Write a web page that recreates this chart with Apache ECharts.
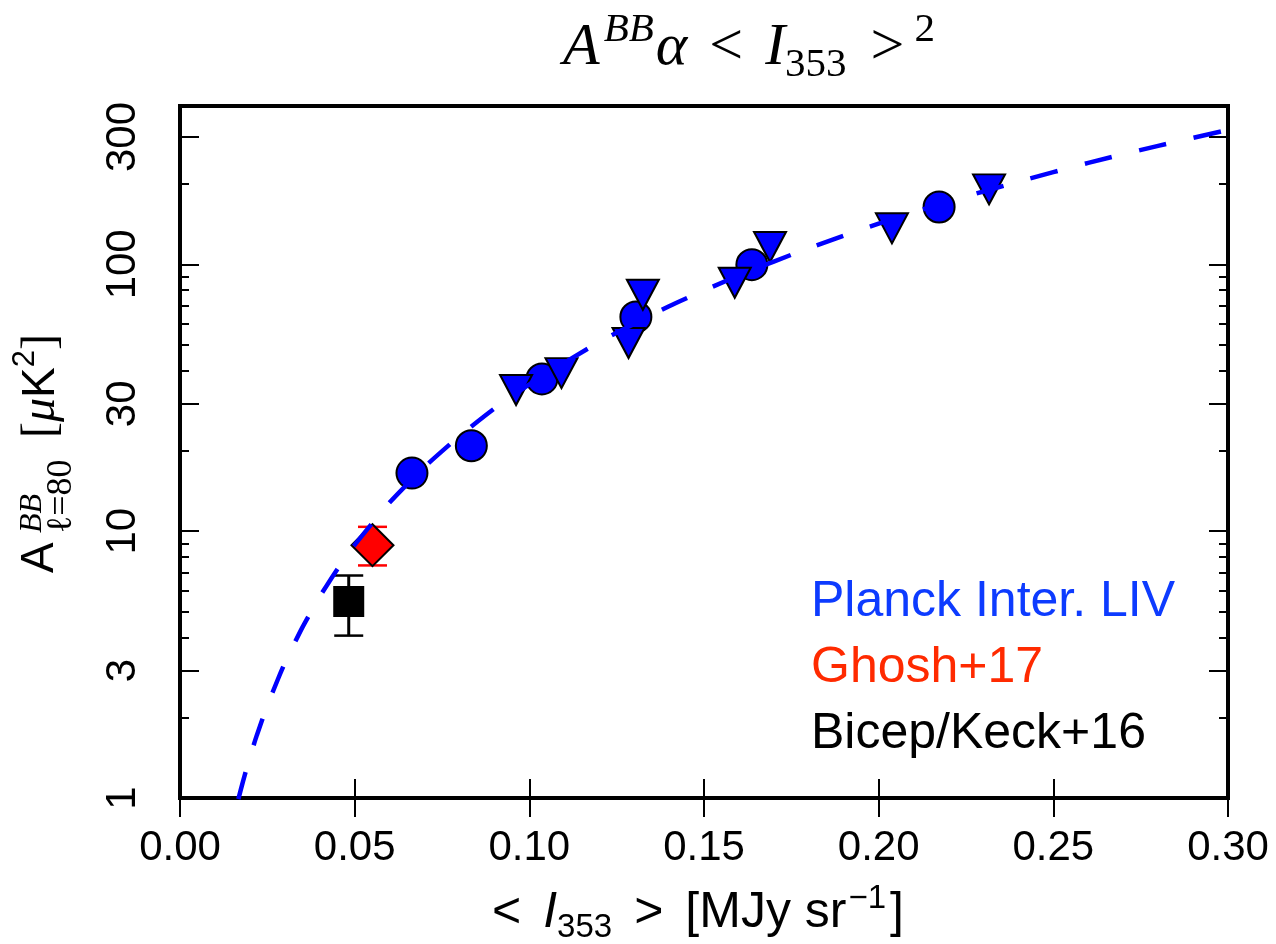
<!DOCTYPE html>
<html><head><meta charset="utf-8">
<script src="https://cdn.jsdelivr.net/npm/echarts@6/dist/echarts.min.js"></script>
<style>html,body{margin:0;padding:0;background:#fff}#c{width:1276px;height:944px}</style>
</head><body><div id="c"></div>
<script>
// ---- data ----
const planckCircleX = [0.0664, 0.0834, 0.1036, 0.1305, 0.1637, 0.2173];
const planckCircleY = [16.5, 20.9, 37.2, 63.5, 99.7, 164.0];
const planckTriX = [0.0962, 0.1092, 0.1284, 0.1325, 0.1588, 0.1689, 0.2038, 0.2316];
const planckTriY = [33.8, 39.1, 50.7, 76.9, 85.3, 116.1, 136.4, 190.9];
const ghoshX = [0.0551];
const ghoshY = [8.86];
const ghoshLow = [7.44];
const ghoshHigh = [10.38];
const bicepX = [0.0483];
const bicepY = [5.45];
const bicepLow = [4.06];
const bicepHigh = [6.82];
// dashed A ∝ <I>^2 curve
const fitX = [0.0167, 0.018, 0.02, 0.022, 0.025, 0.028, 0.03, 0.035, 0.04, 0.045, 0.05, 0.06, 0.07, 0.08, 0.09, 0.10, 0.12, 0.14, 0.16, 0.18, 0.20, 0.22, 0.24, 0.26, 0.28, 0.30];
const fitY = [0.99, 1.15, 1.42, 1.72, 2.22, 2.78, 3.2, 4.35, 5.68, 7.19, 8.88, 12.8, 17.4, 22.7, 28.8, 35.5, 51.1, 69.6, 90.9, 115, 142, 172, 204, 240, 278, 319];
const yMajorTicks = [1, 3, 10, 30, 100, 300];
const yMinorTicks = [2, 4, 5, 6, 7, 8, 9, 20, 40, 50, 60, 70, 80, 90, 200];
const xMin = 0, xMax = 0.30, xStep = 0.05;
const yMinVal = 1, yMaxVal = 392;
const legendLabels = ['Planck Inter. LIV', 'Ghosh+17', 'Bicep/Keck+16'];

// ---- chart ----
const L = Math.log10;
const toPts = (xs, ys) => xs.map((x, i) => [x, L(ys[i])]);
const toErr = (xs, lo, hi) => xs.map((x, i) => [x, L(lo[i]), L(hi[i])]);
const SANS = '"Liberation Sans", Arial, sans-serif';
const SERIF = '"Liberation Serif", "Times New Roman", serif';

function yAx(pos, vals, len, showLabel) {
  const cv = vals.map(L);
  return {
    type: 'value', position: pos, min: L(yMinVal), max: L(yMaxVal),
    axisLine: { show: false }, splitLine: { show: false },
    axisTick: { show: true, inside: true, length: len, customValues: cv, lineStyle: { color: '#000', width: 2 } },
    axisLabel: { show: showLabel, customValues: cv, rotate: 90, margin: 36, fontSize: 42, fontFamily: SANS, color: '#000',
      formatter: v => String(Math.round(Math.pow(10, v))) }
  };
}
function xAx(pos, showLabel) {
  return {
    type: 'value', position: pos, min: xMin, max: xMax, interval: xStep,
    axisLine: { show: false }, splitLine: { show: false },
    axisTick: { show: true, inside: true, length: 19, lineStyle: { color: '#000', width: 2 } },
    axisLabel: { show: showLabel, margin: 29, fontSize: 42, fontFamily: SANS, color: '#000', formatter: v => v.toFixed(2) }
  };
}
function errSeries(data, color, capW, lw) {
  return {
    type: 'custom', data: data, z: 3, clip: false,
    renderItem: function (params, api) {
      const x = api.value(0);
      const p1 = api.coord([x, api.value(1)]);
      const p2 = api.coord([x, api.value(2)]);
      return { type: 'group', children: [
        { type: 'line', shape: { x1: p1[0], y1: p1[1], x2: p2[0], y2: p2[1] }, style: { stroke: color, lineWidth: lw } },
        { type: 'line', shape: { x1: p1[0] - capW, y1: p1[1], x2: p1[0] + capW, y2: p1[1] }, style: { stroke: color, lineWidth: 2.5 } },
        { type: 'line', shape: { x1: p2[0] - capW, y1: p2[1], x2: p2[0] + capW, y2: p2[1] }, style: { stroke: color, lineWidth: 2.5 } }
      ] };
    }
  };
}

const xBase = xAx('bottom', true);
xBase.name = '{r|<}{i|I}{sub|353}{r|>}[MJy sr{sup|−1}]';
xBase.nameLocation = 'middle';
xBase.nameGap = 84;
xBase.nameTextStyle = {
  fontSize: 50, fontFamily: SANS, color: '#000', lineHeight: 62, padding: [0, 34, 0, 0],
  rich: {
    r: { fontSize: 50, fontFamily: SANS, lineHeight: 62, padding: [0, 22, 0, 22] },
    i: { fontSize: 50, fontFamily: SANS, fontStyle: 'italic', lineHeight: 62 },
    sub: { fontSize: 33, fontFamily: SANS, lineHeight: 32, verticalAlign: 'bottom' },
    sup: { fontSize: 33, fontFamily: SANS, lineHeight: 34, verticalAlign: 'top', padding: [0, 4, 0, 2] }
  }
};

const chart = echarts.init(document.getElementById('c'), null, { renderer: 'canvas' });
chart.setOption({
  animation: false,
  backgroundColor: '#fff',
  grid: { left: 180, top: 106, width: 1048, height: 692, show: true, borderColor: '#000', borderWidth: 4,
    backgroundColor: 'transparent', containLabel: false, outerBoundsMode: 'none' },
  xAxis: [xBase, xAx('top', false)],
  yAxis: [yAx('left', yMajorTicks, 19, true), yAx('left', yMinorTicks, 9, false), yAx('right', yMajorTicks, 19, false), yAx('right', yMinorTicks, 9, false)],
  series: [
    errSeries(toErr(bicepX, bicepLow, bicepHigh), '#000', 14.5, 3),
    errSeries(toErr(ghoshX, ghoshLow, ghoshHigh), '#ff0000', 14.5, 2.5),
    { type: 'scatter', data: toPts(planckCircleX, planckCircleY), symbol: 'circle', symbolSize: 31, z: 4,
      itemStyle: { color: '#0000ff', borderColor: '#000', borderWidth: 2, opacity: 1 } },
    { type: 'scatter', data: toPts(planckTriX, planckTriY), symbol: 'triangle', symbolRotate: 180, symbolSize: [32, 30], z: 5,
      itemStyle: { color: '#0000ff', borderColor: '#000', borderWidth: 2, opacity: 1 } },
    { type: 'scatter', data: toPts(ghoshX, ghoshY), symbol: 'diamond', symbolSize: [42, 42], z: 5,
      itemStyle: { color: '#ff0000', borderColor: '#000', borderWidth: 2, opacity: 1 } },
    { type: 'scatter', data: toPts(bicepX, bicepY), symbol: 'rect', symbolSize: 31, z: 5,
      itemStyle: { color: '#000', borderColor: '#000', borderWidth: 0, opacity: 1 } },
    { type: 'line', data: toPts(fitX, fitY), showSymbol: false, symbol: 'none', smooth: 0.2, z: 6, clip: true,
      lineStyle: { color: '#0000ff', width: 4.5, type: [28, 28], cap: 'butt' } }
  ],
  graphic: [
    { type: 'text', x: 749, y: 48, z: 10, style: {
      text: '{i|A}{sup|BB}{i|α}{lt|<}{i|I}{sub|353}{gt|>}{sup2|2}',
      align: 'center', verticalAlign: 'middle', textAlign: 'center', textVerticalAlign: 'middle',
      font: '60px ' + SERIF, fill: '#000', lineHeight: 76,
      rich: {
        i: { fontSize: 60, fontFamily: SERIF, fontStyle: 'italic', lineHeight: 76 },
        lt: { fontSize: 60, fontFamily: SERIF, lineHeight: 76, padding: [0, 22, 0, 22] },
        gt: { fontSize: 60, fontFamily: SERIF, lineHeight: 76, padding: [0, 4, 0, 24] },
        sup: { fontSize: 41, fontFamily: SERIF, fontStyle: 'italic', lineHeight: 51, verticalAlign: 'top', padding: [0, 2, 0, 4] },
        sup2: { fontSize: 41, fontFamily: SERIF, lineHeight: 51, verticalAlign: 'top', padding: [0, 0, 0, 6] },
        sub: { fontSize: 41, fontFamily: SERIF, lineHeight: 44, verticalAlign: 'bottom' }
      } } },
    { type: 'group', x: 55, y: 573, rotation: Math.PI / 2, z: 10, children: [
      { type: 'text', x: 0, y: -15, style: { text: 'A', font: '46px ' + SANS, fill: '#000', align: 'left', verticalAlign: 'middle', textAlign: 'left', textVerticalAlign: 'middle' } },
      { type: 'text', x: 40, y: -22, style: { text: 'BB', font: 'italic 32px ' + SERIF, fill: '#000', align: 'left', verticalAlign: 'middle', textAlign: 'left', textVerticalAlign: 'middle' } },
      { type: 'text', x: 40, y: 7, style: { text: 'ℓ=80', font: '36px ' + SERIF, fill: '#000', align: 'left', verticalAlign: 'middle', textAlign: 'left', textVerticalAlign: 'middle' } },
      { type: 'text', x: 135, y: -14, style: {
        text: '[{mu|μ}{k|K}{sup|2}]', font: '48px ' + SERIF, fill: '#000', lineHeight: 62,
        align: 'left', verticalAlign: 'middle', textAlign: 'left', textVerticalAlign: 'middle',
        rich: {
          mu: { fontSize: 48, fontFamily: SERIF, fontStyle: 'italic', lineHeight: 62 },
          k: { fontSize: 46, fontFamily: SANS, lineHeight: 62 },
          sup: { fontSize: 31, fontFamily: SANS, lineHeight: 36, verticalAlign: 'top' }
        } } }
    ] },
    { type: 'text', x: 811, y: 602, z: 10, style: { text: legendLabels[0], font: '50px ' + SANS, fill: '#0d3bff', align: 'left', verticalAlign: 'middle', textAlign: 'left', textVerticalAlign: 'middle' } },
    { type: 'text', x: 811, y: 668, z: 10, style: { text: legendLabels[1], font: '50px ' + SANS, fill: '#ff2a00', align: 'left', verticalAlign: 'middle', textAlign: 'left', textVerticalAlign: 'middle' } },
    { type: 'text', x: 811, y: 734, z: 10, style: { text: legendLabels[2], font: '50px ' + SANS, fill: '#000', align: 'left', verticalAlign: 'middle', textAlign: 'left', textVerticalAlign: 'middle' } }
  ]
});
</script></body></html>
